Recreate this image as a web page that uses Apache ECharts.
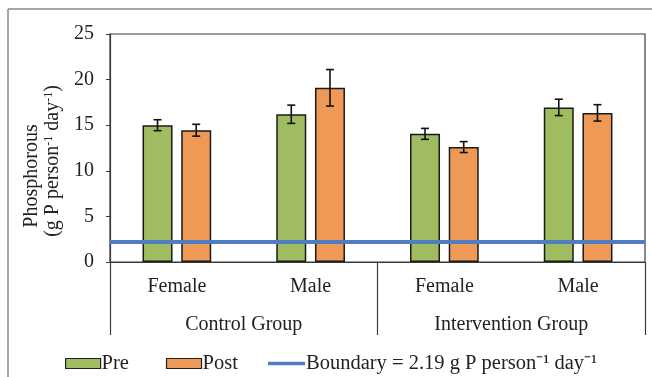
<!DOCTYPE html>
<html>
<head>
<meta charset="utf-8">
<script src="https://cdn.jsdelivr.net/npm/echarts@6/dist/echarts.min.js"></script>
<style>
  html, body { margin: 0; padding: 0; background: #fff; }
  #chart { width: 652px; height: 377px; }
</style>
</head>
<body>
<div id="chart"></div>
<script>
// Daily phosphorus excretion per person, by group and sex (mean ± error)
const categories = ['Female', 'Male', 'Female', 'Male'];
const groups = ['Control Group', 'Intervention Group'];
const preMean = [15.0, 16.2, 14.05, 16.95];
const preErr = [0.6, 1.0, 0.6, 0.9];
const postMean = [14.45, 19.1, 12.6, 16.35];
const postErr = [0.65, 2.0, 0.6, 0.9];
const boundary = 2.19;
const yTicks = [0, 5, 10, 15, 20, 25];
const boundaryName = 'Boundary = 2.19 g P person\u207B\u00B9 day\u207B\u00B9';

const FONT = '"Liberation Serif", "Times New Roman", serif';
const TEXT = '#222';
const AXIS = '#3a3a3a';
const GREEN = '#A0BC60';
const ORANGE = '#EE9A56';
const BLUE = '#4F7EC0';

const BAR_W = 30;
const BAR_GAP = 0.29; // fraction of bar width between Pre and Post
const halfStep = (BAR_W + BAR_W * BAR_GAP) / 2;

function errorBars(means, errs, side) {
  return {
    type: 'custom',
    silent: true,
    z: 5,
    data: means.map((m, i) => [i, m, errs[i]]),
    encode: { x: 0, y: 1 },
    renderItem: function (params, api) {
      const c = api.value(0), m = api.value(1), e = api.value(2);
      const top = api.coord([c, m + e]);
      const bot = api.coord([c, m - e]);
      const x = top[0] + side * halfStep;
      const cap = 4;
      const style = { stroke: '#111', lineWidth: 1.6 };
      return {
        type: 'group',
        children: [
          { type: 'line', shape: { x1: x, y1: top[1], x2: x, y2: bot[1] }, style },
          { type: 'line', shape: { x1: x - cap, y1: top[1], x2: x + cap, y2: top[1] }, style },
          { type: 'line', shape: { x1: x - cap, y1: bot[1], x2: x + cap, y2: bot[1] }, style }
        ]
      };
    }
  };
}

const chart = echarts.init(document.getElementById('chart'), null, { renderer: 'canvas' });

chart.setOption({
  animation: false,
  backgroundColor: '#fff',
  textStyle: { fontFamily: FONT, color: TEXT },
  grid: {
    left: 110, right: 7, top: 34, bottom: 115,
    show: true, borderColor: AXIS, borderWidth: 1.2, backgroundColor: 'transparent'
  },
  legend: [
    {
      left: 65, top: 353, padding: 0,
      itemWidth: 35, itemHeight: 10, itemGap: 37,
      icon: 'rect',
      textStyle: { fontFamily: FONT, fontSize: 20.5, color: TEXT, padding: [0, 0, 0, -4] },
      data: [
        { name: 'Pre', itemStyle: { borderColor: '#222', borderWidth: 1.2 } },
        { name: 'Post', itemStyle: { borderColor: '#222', borderWidth: 1.2 } }
      ]
    },
    {
      left: 268, top: 353, padding: 0,
      itemWidth: 37, itemHeight: 3.5,
      icon: 'rect',
      textStyle: { fontFamily: FONT, fontSize: 20.5, color: TEXT, padding: [0, 0, 0, -4] },
      data: [{ name: boundaryName, itemStyle: { color: BLUE, borderWidth: 0 } }]
    }
  ],
  xAxis: [
    {
      type: 'category',
      data: categories,
      position: 'bottom',
      axisLine: { show: true, lineStyle: { color: AXIS, width: 1.2 } },
      axisTick: { show: false },
      axisLabel: { margin: 15, fontFamily: FONT, fontSize: 20, color: TEXT }
    },
    {
      type: 'category',
      data: groups,
      position: 'bottom',
      axisLine: { show: false },
      axisTick: { show: true, length: 73, lineStyle: { color: AXIS, width: 1.2 } },
      axisLabel: { margin: 53, fontFamily: FONT, fontSize: 20, color: TEXT }
    }
  ],
  yAxis: {
    type: 'value',
    min: yTicks[0],
    max: yTicks[yTicks.length - 1],
    interval: yTicks[1] - yTicks[0],
    axisLine: { show: true, lineStyle: { color: AXIS, width: 1.2 } },
    axisTick: { show: true, length: 4, lineStyle: { color: AXIS } },
    splitLine: { show: false },
    axisLabel: { margin: 16, fontFamily: FONT, fontSize: 20, color: TEXT }
  },
  series: [
    {
      name: 'Pre',
      type: 'bar',
      data: preMean,
      barWidth: BAR_W,
      barGap: (BAR_GAP * 100) + '%',
      itemStyle: { color: GREEN, borderColor: '#1a1a1a', borderWidth: 1.5 },
      z: 2
    },
    {
      name: 'Post',
      type: 'bar',
      data: postMean,
      barWidth: BAR_W,
      barGap: (BAR_GAP * 100) + '%',
      itemStyle: { color: ORANGE, borderColor: '#1a1a1a', borderWidth: 1.5 },
      z: 2
    },
    errorBars(preMean, preErr, -1),
    errorBars(postMean, postErr, 1),
    {
      name: boundaryName,
      type: 'line',
      data: [],
      symbol: 'none',
      itemStyle: { color: BLUE },
      lineStyle: { color: BLUE, width: 4 },
      z: 4,
      markLine: {
        silent: true,
        symbol: 'none',
        label: { show: false },
        lineStyle: { color: BLUE, width: 4, type: 'solid' },
        data: [{ yAxis: boundary }]
      }
    }
  ],
  graphic: [
    // outer frame (top and left edges)
    { type: 'line', shape: { x1: 8, y1: 9, x2: 652, y2: 9 }, style: { stroke: '#8a8a8a', lineWidth: 1.5 } },
    { type: 'line', shape: { x1: 8, y1: 9, x2: 8, y2: 377 }, style: { stroke: '#8a8a8a', lineWidth: 1.5 } },
    // y-axis title, two lines
    {
      type: 'text', x: 32, y: 176, rotation: Math.PI / 2,
      style: { text: 'Phosphorous', font: '20px ' + FONT, fill: TEXT, align: 'center', verticalAlign: 'middle' }
    },
    {
      type: 'text', x: 53, y: 161, rotation: Math.PI / 2,
      style: {
        text: '(g P person{s|-1} day{s|-1})',
        font: '20px ' + FONT, fill: TEXT, align: 'center', verticalAlign: 'middle',
        rich: { s: { fontSize: 12, fontFamily: FONT, fill: TEXT, verticalAlign: 'top', lineHeight: 20 } }
      }
    }
  ]
});
</script>
</body>
</html>
